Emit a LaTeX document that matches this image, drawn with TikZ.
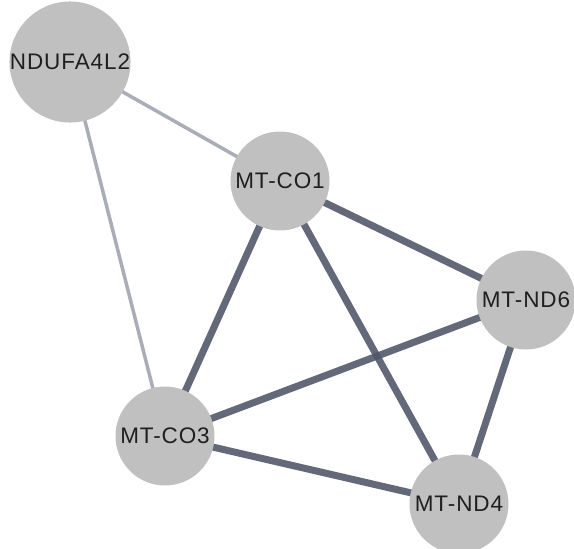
\documentclass[tikz,border=0pt]{standalone}
\usepackage{fontspec}
\setmainfont{Liberation Sans}[LetterSpace=4]
\definecolor{nodefill}{HTML}{C0C0C0}
\definecolor{darkedge}{HTML}{4F5468}
\definecolor{lightedge}{HTML}{A9ADB8}
\begin{document}
\begin{tikzpicture}[x=1pt,y=-1pt,
  gene/.style={circle,fill=nodefill,draw=none,minimum size=99pt,inner sep=0pt,
    font=\fontsize{22.5}{24}\selectfont,text=black!88},
  strong/.style={draw=darkedge,line width=7pt,draw opacity=0.88},
  weak/.style={draw=lightedge,line width=3.5pt}]
\useasboundingbox (0,0) rectangle (574,549);
\coordinate (pNDU) at (70,62);
\coordinate (pCO1) at (280,181);
\coordinate (pND6) at (526,300);
\coordinate (pCO3) at (165,436);
\coordinate (pND4) at (459,504);
% edges first (behind nodes)
\draw[weak] (pNDU) -- (pCO1);
\draw[weak] (pNDU) -- (pCO3);
\draw[strong] (pCO1) -- (pND6);
\draw[strong] (pCO1) -- (pCO3);
\draw[strong] (pCO1) -- (pND4);
\draw[strong] (pND6) -- (pCO3);
\draw[strong] (pND6) -- (pND4);
\draw[strong] (pCO3) -- (pND4);
\node[gene] (NDU) at (pNDU) {NDUFA4L2};
\node[gene] (CO1) at (pCO1) {MT-CO1};
\node[gene] (ND6) at (pND6) {MT-ND6};
\node[gene] (CO3) at (pCO3) {MT-CO3};
\node[gene] (ND4) at (pND4) {MT-ND4};
\end{tikzpicture}
\end{document}
